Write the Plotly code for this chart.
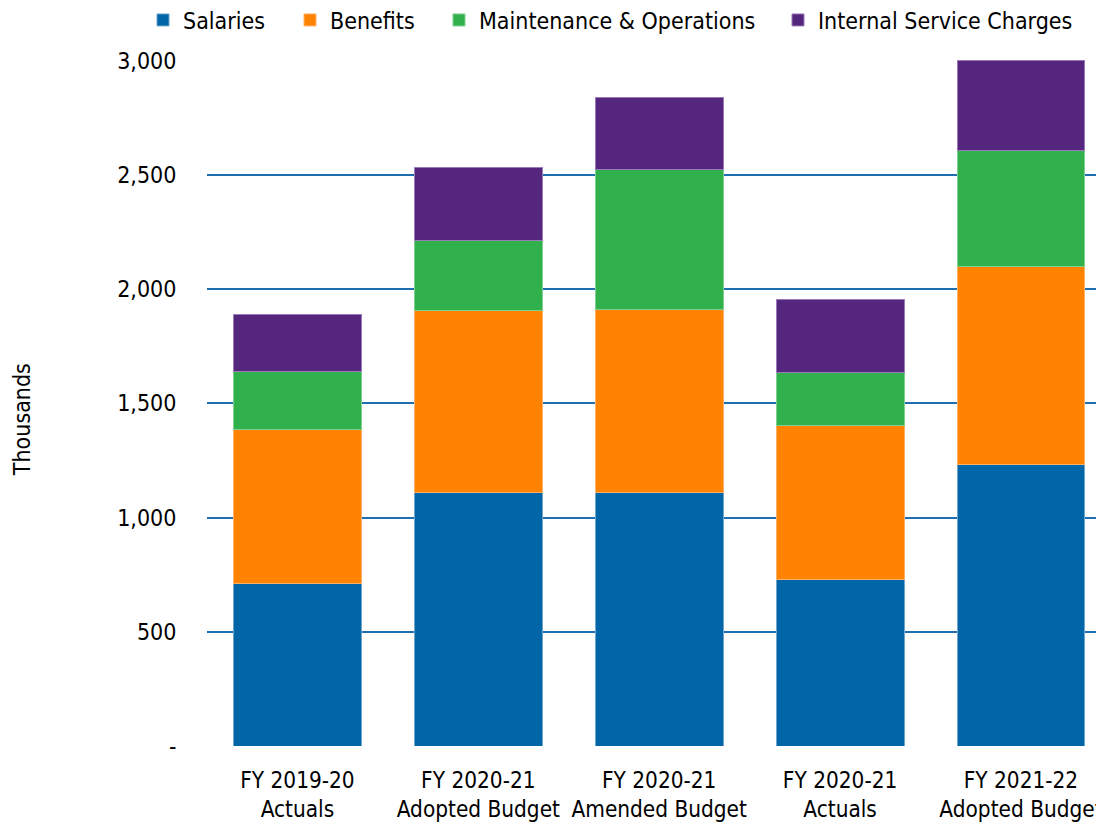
import plotly.graph_objects as go

categories = ["FY 2019-20<br>Actuals", "FY 2020-21<br>Adopted Budget", "FY 2020-21<br>Amended Budget",
              "FY 2020-21<br>Actuals", "FY 2021-22<br>Adopted Budget"]
salaries = [713, 1111, 1111, 730, 1233]
benefits = [673, 796, 800, 674, 866]
maint_ops = [254, 306, 612, 232, 507]
internal_svc = [249, 319, 315, 319, 394]

series_names = ["Salaries", "Benefits", "Maintenance & Operations", "Internal Service Charges"]
series_vals = [salaries, benefits, maint_ops, internal_svc]
colors = ["#0066A8", "#FF8200", "#30B14C", "#55267D"]
edge = ["#6FA6CE", "#FFB266", "#7FD08F", "#9A7AB8"]
legend_text_x = [177, 324, 473, 812]  # where each legend label starts (figure px)

y_tickvals = [0, 500, 1000, 1500, 2000, 2500, 3000]
y_ticktext = ["-", "500", "1,000", "1,500", "2,000", "2,500", "3,000"]

FONT = "Liberation Sans Narrow, Arial Narrow, DejaVu Sans Condensed, Liberation Sans, Arial, sans-serif"
FS = 23
W, H = 1104, 829

fig = go.Figure()
x_idx = list(range(len(categories)))
legend_ids = ["legend", "legend2", "legend3", "legend4"]
for name, vals, c, e, lid in zip(series_names, series_vals, colors, edge, legend_ids):
    fig.add_trace(go.Bar(x=x_idx, y=vals, name=name, marker=dict(color=c, line=dict(color=e, width=1)),
                         width=0.707, legend=lid))

legend_layout = {}
for lid, tx in zip(legend_ids, legend_text_x):
    legend_layout[lid] = dict(orientation="h", x=(tx - 42) / W, xref="container", xanchor="left",
                              y=1 - 12 / H, yref="container", yanchor="middle",
                              font=dict(size=FS), bgcolor="rgba(0,0,0,0)")

fig.update_layout(
    barmode="stack",
    width=W, height=H,
    margin=dict(l=199, r=8, t=52, b=91, autoexpand=False),
    paper_bgcolor="white", plot_bgcolor="white",
    font=dict(family=FONT, size=FS, color="black"),
    showlegend=True,
    **legend_layout,
)
fig.update_xaxes(range=[-0.5, 4.459], tickvals=x_idx, ticktext=categories, showgrid=False, tickangle=0,
                 showline=False, zeroline=False, ticks="outside", ticklen=14, tickcolor="rgba(0,0,0,0)",
                 tickfont=dict(size=22.4))
fig.update_yaxes(range=[0, 3003], tickvals=y_tickvals, ticktext=y_ticktext, showgrid=True,
                 gridcolor="#1F6FB0", gridwidth=2, zeroline=False, showline=False,
                 ticks="outside", ticklen=25, tickcolor="rgba(0,0,0,0)", tickfont=dict(size=FS))
fig.add_annotation(text="Thousands", xref="paper", yref="paper", x=(14 - 199) / 897, y=0.475,
                   textangle=-90, showarrow=False, font=dict(size=FS), xanchor="center", yanchor="middle")
fig.write_html("out.html")
